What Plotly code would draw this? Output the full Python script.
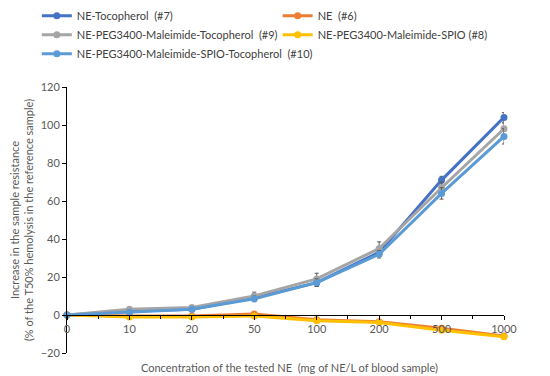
import plotly.graph_objects as go

categories = ["0", "10", "20", "50", "100", "200", "500", "1000"]
names = ["NE-Tocopherol  (#7)", "NE  (#6)", "NE-PEG3400-Maleimide-Tocopherol  (#9)",
         "NE-PEG3400-Maleimide-SPIO (#8)", "NE-PEG3400-Maleimide-SPIO-Tocopherol  (#10)"]
colors = ["#4472C4", "#ED7D31", "#A5A5A5", "#FFC000", "#5B9BD5"]
legend_ids = ["legend", "legend2", "legend", "legend2", "legend"]

toco_7 = [0, 2, 3, 9, 17, 33, 71, 104]
ne_6 = [0, -0.5, -0.5, 0.5, -2.5, -3.5, -7, -11]
peg_toco_9 = [0, 3, 4, 10, 19, 35, 67, 98]
peg_spio_8 = [0, -1, -1, -0.5, -3, -4, -8, -11.5]
peg_spio_toco_10 = [0, 1.5, 3, 8.5, 17, 32, 64, 94]

err_7 = [0, 1, 1, 1.5, 2, 2, 2, 2.5]
err_6 = [0, 0.5, 0.5, 0.5, 0.5, 0.5, 1, 1]
err_9 = [0, 1, 1, 2, 3, 3.5, 3, 3]
err_8 = [0, 0.5, 0.5, 0.5, 0.5, 0.5, 1, 1]
err_10 = [0, 1, 1, 1.5, 2, 2, 3, 4]

series = [toco_7, ne_6, peg_toco_9, peg_spio_8, peg_spio_toco_10]
errs = [err_7, err_6, err_9, err_8, err_10]

xpos = list(range(len(categories)))
fig = go.Figure()
for name, vals, err, col, lg in zip(names, series, errs, colors, legend_ids):
    fig.add_trace(go.Scatter(
        x=xpos, y=vals, name=name, mode="lines+markers", legend=lg,
        line=dict(color=col, width=3), marker=dict(color=col, size=7),
        error_y=dict(type="data", array=err, visible=True, color="#595959", thickness=1, width=2),
        cliponaxis=False,
    ))

font = "Lato, 'Open Sans', sans-serif"
legend_common = dict(orientation="v", yanchor="top", xanchor="left", itemwidth=30,
                     tracegroupgap=0, bgcolor="rgba(0,0,0,0)",
                     font=dict(size=11, color="#404040"))
fig.update_layout(
    width=550, height=376,
    margin=dict(l=67, r=46, t=87, b=23, autoexpand=False),
    paper_bgcolor="white", plot_bgcolor="white",
    font=dict(family=font, size=11, color="#595959"),
    showlegend=True,
    legend=dict(x=-0.069, y=1.322, **legend_common),
    legend2=dict(x=0.482, y=1.322, **legend_common),
    xaxis=dict(range=[0, 7], tickmode="array", tickvals=xpos, ticktext=categories,
               anchor="free", position=20/140, showline=True, linecolor="black", linewidth=1,
               ticks="outside", ticklen=4, tickcolor="black", showgrid=False, zeroline=False,
               minor=dict(tickvals=[i + 0.5 for i in range(7)], ticks="outside", ticklen=3,
                          tickcolor="black"),
               tickfont=dict(size=11, color="#595959")),
    yaxis=dict(range=[-20, 120], dtick=20, showline=True, linecolor="black", linewidth=1,
               ticks="outside", ticklen=4, tickcolor="black", showgrid=False, zeroline=False,
               tickfont=dict(size=11, color="#595959"),
               title=dict(text="Increase in the sample resistance<br>(% of the T50% hemolysis in the reference sample)",
                          font=dict(size=11, color="#595959"), standoff=4)),
)
fig.add_annotation(text="Concentration of the tested NE  (mg of NE/L of blood sample)",
                   xref="paper", yref="paper", x=0.51, y=-0.056, yanchor="middle", showarrow=False,
                   font=dict(size=11, color="#595959"))
fig.write_html("out.html", config={"displayModeBar": False},
               post_script="document.body.style.margin='0px';")
